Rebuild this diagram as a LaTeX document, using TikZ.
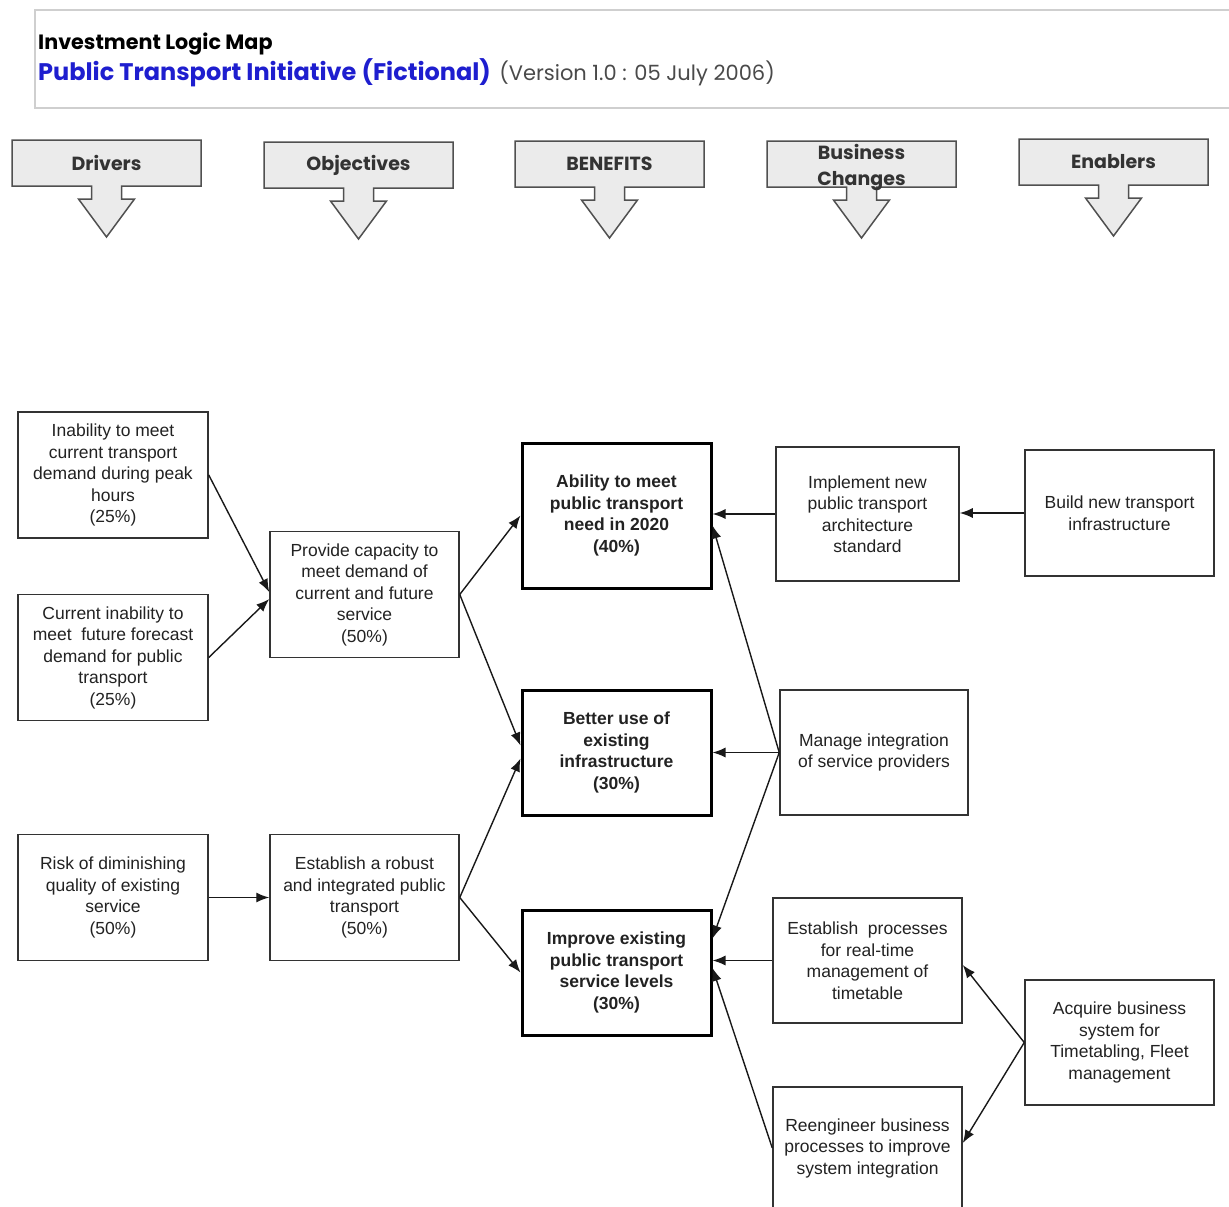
\documentclass[tikz,border=0pt]{standalone}
\usepackage{fontspec}
\setmainfont{Liberation Sans}
\newfontfamily\headfont{Poppins}
\usetikzlibrary{arrows.meta,calc}
\definecolor{boxline}{HTML}{333333}
\definecolor{txt}{HTML}{222222}
\definecolor{hdfill}{HTML}{EBEBEB}
\definecolor{hdline}{HTML}{505050}
\definecolor{titleblue}{HTML}{1E1ECF}
\definecolor{panel}{HTML}{CFCFCF}
\definecolor{vers}{HTML}{4A4A4A}
\begin{document}
\begin{tikzpicture}[x=1pt,y=-1pt,
  box/.style={draw=boxline, line width=1.5pt, align=center, text=txt, inner sep=0pt,
    minimum width=190pt, minimum height=126pt, font=\fontsize{17.5}{21.5}\selectfont},
  keybox/.style={box, draw=black, line width=3pt, font=\bfseries\fontsize{17.5}{21.5}\selectfont},
  conn/.style={draw=black!90, line width=1.4pt, -{Latex[length=13pt,width=10pt]}},
  hdarrow/.style={draw=hdline, fill=hdfill, line width=1.5pt},
  hdtext/.style={font=\headfont\bfseries\fontsize{19}{26}\selectfont, text=black!80, align=center, inner sep=0pt}]

\useasboundingbox (0,0) rectangle (1229,1207);
\fill[white] (0,0) rectangle (1229,1207);

% title panel
\draw[panel, line width=2pt] (35,10) rectangle (1240,108);
\node[anchor=base west, inner sep=0pt, font=\headfont\bfseries\fontsize{20.7}{22}\selectfont] (ttl) at (38,50) {Investment Logic Map};
\node[anchor=base west, inner sep=0pt, text=titleblue, font=\headfont\bfseries\fontsize{24}{26}\selectfont] (sub) at (38,81) {Public Transport Initiative (Fictional)};
\node[anchor=base west, inner sep=0pt, text=vers, font=\headfont\fontsize{21}{22}\selectfont] (ver) at ($(sub.base east)+(8,0)$) {(Version 1.0 : 05 July 2006)};

% column header arrows
\foreach \L/\T/\dy/\nm/\lbl in {12/140/23/hdrv/Drivers, 264/142/23/hobj/Objectives, 515/141/23/hben/BENEFITS, {767/141/27/hbus/Business\\Changes}, 1019/139/23/hena/Enablers} {
  \draw[hdarrow] (\L,\T) -- ++(189,0) -- ++(0,46) -- ++(-79.5,0) -- ++(0,13) -- ++(13,0)
    -- ++(-28,38) -- ++(-28,-38) -- ++(13,0) -- ++(0,-13) -- ++(-79.5,0) -- cycle;
  \node[hdtext] (\nm) at (\L+94.5,\T+\dy) {\lbl};
}

% drivers
\node[box] (d1) at (113,475) {Inability to meet\\current transport\\demand during peak\\hours\\(25\%)};
\node[box] (d2) at (113,657.5) {Current inability to\\meet~ future forecast\\demand for public\\transport\\(25\%)};
\node[box] (d3) at (113,897.5) {Risk of diminishing\\quality of existing\\service\\(50\%)};

% objectives
\node[box, minimum width=189pt] (o1) at (364.5,594.5) {Provide capacity to\\meet demand of\\current and future\\service\\(50\%)};
\node[box, minimum width=189pt] (o2) at (364.5,897.5) {Establish a robust\\and integrated public\\transport\\(50\%)};

% benefits
\node[keybox, minimum width=189pt, minimum height=145pt] (b1) at (616.5,515.5) {Ability to meet\\public transport\\need in 2020\\(40\%)};
\node[keybox, minimum width=189pt, minimum height=125pt] (b2) at (616.5,752.5) {Better use of\\existing\\infrastructure\\(30\%)};
\node[keybox, minimum width=189pt, minimum height=125pt] (b3) at (616.5,972.5) {Improve existing\\public transport\\service levels\\(30\%)};

% business changes
\node[box, minimum width=183pt, minimum height=134pt] (c1) at (867.5,514) {Implement new\\public transport\\architecture\\standard};
\node[box, minimum width=188pt, minimum height=125pt] (c2) at (874,752.5) {Manage integration\\of service providers};
\node[box, minimum width=189pt, minimum height=125pt] (c3) at (867.5,960.5) {Establish~ processes\\for real-time\\management of\\timetable};
\node[box, minimum width=189pt, minimum height=122pt] (c4) at (867.5,1148) {Reengineer business\\processes to improve\\system integration};

% enablers
\node[box, minimum width=189pt, minimum height=126pt] (e1) at (1119.5,513) {Build new transport\\infrastructure};
\node[box, minimum width=189pt, minimum height=125pt] (e2) at (1119.5,1042.5) {Acquire business\\system for\\Timetabling, Fleet\\management};

% links
\draw[conn] (d1.east) -- ($(o1.west)+(0,-2.5)$);
\draw[conn] (d2.east) -- ($(o1.west)+(0,4.5)$);
\draw[conn] (d3.east) -- (o2.west);
\draw[conn] (o1.east) -- (b1.west);
\draw[conn] (o1.east) -- ($(b2.west)+(0,-7)$);
\draw[conn] (o2.east) -- ($(b2.west)+(0,6)$);
\draw[conn] (o2.east) -- (b3.west);
\draw[conn] (c1.west) -- (c1.west -| b1.east);
\draw[conn] (e1.west) -- (e1.west -| c1.east);
\draw[conn] (c2.west) -- (c2.west -| b2.east);
\draw[conn] (c2.west) -- ($(b1.east)+(0,10)$);
\draw[conn] (c2.west) -- ($(b3.east)+(0,-34)$);
\draw[conn] (c3.west) -- (c3.west -| b3.east);
\draw[conn] (c4.west) -- ($(b3.east)+(0,-4.5)$);
\draw[conn] (e2.west) -- ($(c3.east)+(0,4.5)$);
\draw[conn] (e2.west) -- ($(c4.east)+(0,-5)$);
\end{tikzpicture}
\end{document}
